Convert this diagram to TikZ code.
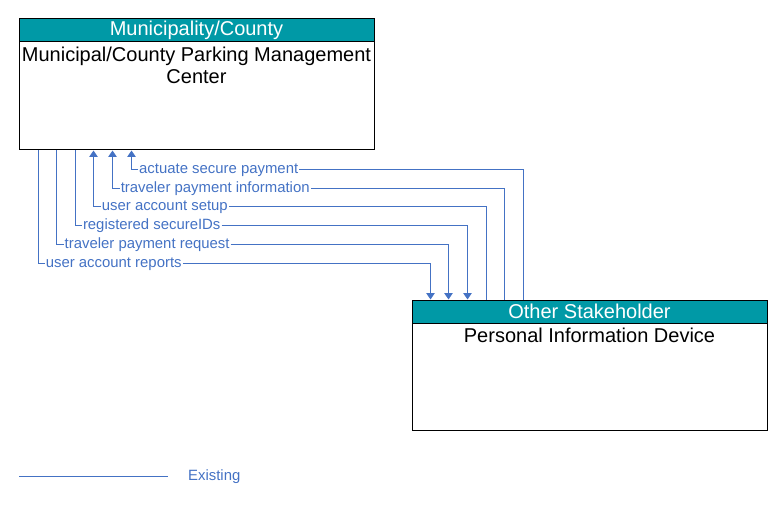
\documentclass[tikz,border=0pt]{standalone}
\usepackage{fontspec}
\setmainfont{Liberation Sans}
\usetikzlibrary{arrows.meta}
\definecolor{headteal}{RGB}{0,153,166}
\definecolor{flowblue}{RGB}{68,114,196}
\begin{document}
\begin{tikzpicture}[
        x=1pt, y=-1pt,
        box/.style={draw=black, line width=1pt, minimum width=355pt, inner sep=0pt},
        head/.style={draw=black, fill=headteal, text=white, line width=1pt, minimum width=355pt,
            minimum height=23pt, inner sep=0pt, font=\fontsize{20}{22}\selectfont},
        title/.style={align=center, inner sep=0pt, font=\fontsize{20}{22}\selectfont},
        flow/.style={draw=flowblue, line width=1pt},
        flowarrow/.style={flow, -{Triangle[width=8.5pt,length=6.5pt]}},
        flowlabel/.style={anchor=west, inner sep=1pt, text=flowblue, text height=12.4pt, text depth=3pt,
            font=\fontsize{14.9}{16}\selectfont}
    ]
        \useasboundingbox (0,0) rectangle (783,505);
        \node[box, minimum height=131pt] (mpmc) at (196.5,84.5) {};
        \node[head, anchor=north] (mpmchead) at (mpmc.north) {Municipality/County};
        \node[title, anchor=north] (mpmctext) at ([yshift=-4.5pt]mpmchead.south) {Municipal/County Parking Management\\Center};
        \node[box, minimum height=130pt] (pid) at (589.5,365) {};
        \node[head, anchor=north] (pidhead) at (pid.north) {Other Stakeholder};
        \node[title, anchor=north] (pidtext) at ([yshift=-4.5pt]pidhead.south) {Personal Information Device};
        \node[flowlabel] (actuate) at (138,169) {actuate secure payment};
        \node[flowlabel] (payinfo) at (119.6,188) {traveler payment information};
        \node[flowlabel] (setup) at (100.7,206) {user account setup};
        \node[flowlabel] (secureids) at (81.8,225) {registered secureIDs};
        \node[flowlabel] (payreq) at (63.5,244) {traveler payment request};
        \node[flowlabel] (reports) at (44.6,263) {user account reports};
        \draw[flow] ([xshift=112pt]pid.north west) |- (actuate.east);
        \draw[flowarrow] (actuate.west) -| ([xshift=113pt]mpmc.south west);
        \draw[flow] ([xshift=93pt]pid.north west) |- (payinfo.east);
        \draw[flowarrow] (payinfo.west) -| ([xshift=94pt]mpmc.south west);
        \draw[flow] ([xshift=75pt]pid.north west) |- (setup.east);
        \draw[flowarrow] (setup.west) -| ([xshift=75pt]mpmc.south west);
        \draw[flow] ([xshift=56.5pt]mpmc.south west) |- (secureids.west);
        \draw[flowarrow] (secureids.east) -| ([xshift=56pt]pid.north west);
        \draw[flow] ([xshift=38pt]mpmc.south west) |- (payreq.west);
        \draw[flowarrow] (payreq.east) -| ([xshift=37pt]pid.north west);
        \draw[flow] ([xshift=20pt]mpmc.south west) |- (reports.west);
        \draw[flowarrow] (reports.east) -| ([xshift=19pt]pid.north west);
        \coordinate (legstart) at (19,476);
        \coordinate (legend) at (168,476);
        \draw[flow] (legstart) -- (legend);
        \node[flowlabel] (existing) at (187,476) {Existing};
    \end{tikzpicture}
\end{document}
